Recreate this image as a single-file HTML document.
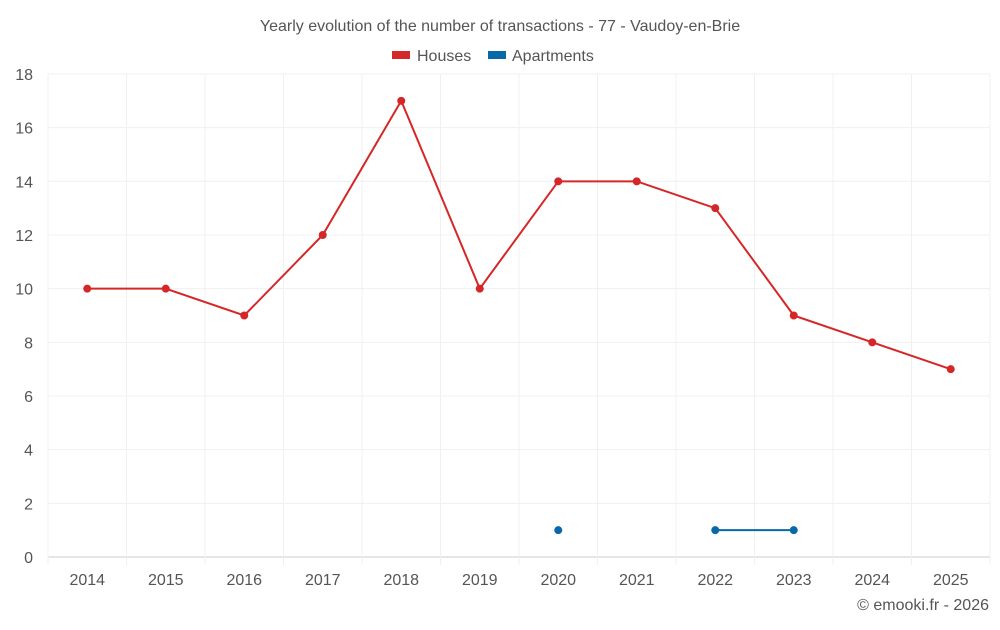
<!DOCTYPE html>
<html><head><meta charset="utf-8"><style>
body{margin:0;background:#fff;font-family:"Liberation Sans",sans-serif;}
svg text{font-family:"Liberation Sans",sans-serif;fill:#555;}
</style></head><body>
<svg id="chart" width="1000" height="625">
<text x="500" y="31" text-anchor="middle" font-size="16">Yearly evolution of the number of transactions - 77 - Vaudoy-en-Brie</text>
<g>
<g><rect x="392" y="51" width="18" height="8" fill="#d62728"/><text x="417" y="61" font-size="16">Houses</text></g>
<g><rect x="488" y="51" width="18" height="8" fill="#0868a8"/><text x="512" y="61" font-size="16">Apartments</text></g>
</g>
<g id="grid"></g><g id="axes"></g><g id="series"></g>
<text x="989" y="610" text-anchor="end" font-size="16">© emooki.fr - 2026</text>
</svg>
<script>
const years=["2014","2015","2016","2017","2018","2019","2020","2021","2022","2023","2024","2025"];
const houses=[10,10,9,12,17,10,14,14,13,9,8,7];
const apartments=[null,null,null,null,null,null,1,null,1,1,null,null];
const yTicks=[0,2,4,6,8,10,12,14,16,18];
const L=48,R=990,T=74,B=557,yMax=18;
const bw=(R-L)/years.length;
const x=i=>L+bw*(i+0.5);
const y=v=>B-(B-T)*v/yMax;
const NS="http://www.w3.org/2000/svg";
function mk(tag,attrs,parent){const e=document.createElementNS(NS,tag);for(const k in attrs)e.setAttribute(k,attrs[k]);document.getElementById(parent).appendChild(e);return e;}
yTicks.forEach(v=>{
 const g=mk('line',{x1:L,x2:R,y1:y(v),y2:y(v),stroke:v===0?'#ccc':'#f0f0f0'},'grid');
 
 
 const t=mk('text',{x:33,y:y(v)+6,'text-anchor':'end','font-size':16},'axes');t.textContent=v;
 
 
});
for(let i=0;i<=years.length;i++){
 const g=mk('line',{x1:L+bw*i,x2:L+bw*i,y1:T,y2:B+8,stroke:'#f0f0f0'},'grid');
 
 
}
years.forEach((yr,i)=>{
 const t=mk('text',{x:x(i),y:585,'text-anchor':'middle','font-size':16},'axes');t.textContent=yr;
 
 
});
function drawSeries(vals,color,name){
 let segs=[],cur=[];
 vals.forEach((v,i)=>{if(v==null){if(cur.length)segs.push(cur);cur=[];}else cur.push([x(i),y(v)]);});
 if(cur.length)segs.push(cur);
 segs.forEach(s=>{if(s.length>1){const p=mk('polyline',{points:s.map(p=>p.join(',')).join(' '),fill:'none',stroke:color,'stroke-width':2},'series');
  
  }});
 vals.forEach((v,i)=>{if(v==null)return;const c=mk('circle',{cx:x(i),cy:y(v),r:4,fill:color},'series');
  
  });
}
drawSeries(houses,'#d62728','houses');
drawSeries(apartments,'#0868a8','apartments');
</script>
</body></html>
